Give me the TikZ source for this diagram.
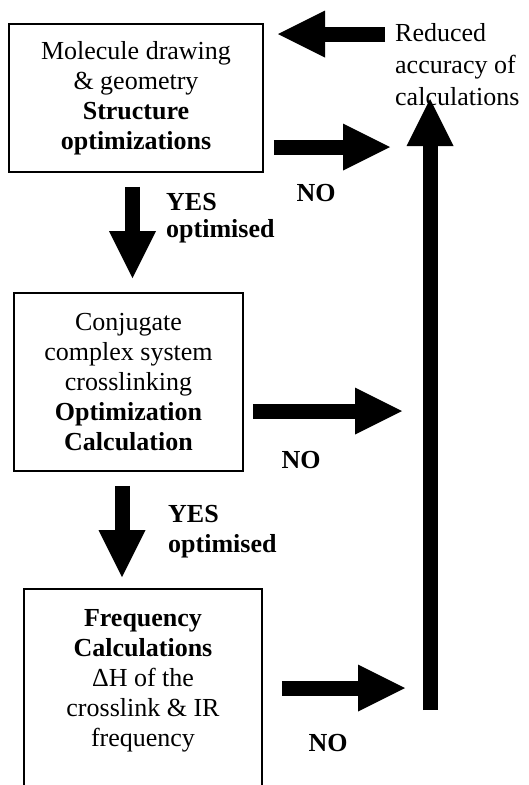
\documentclass[tikz,border=0pt]{standalone}
\usepackage{fontspec}
\setmainfont{Liberation Serif}
\usetikzlibrary{arrows.meta}

\begin{document}
\begin{tikzpicture}[x=1pt, y=-1pt, font=\fontsize{26}{30}\selectfont,
    box/.style={draw, line width=1.6pt, align=center, inner sep=0pt},
    bigarr/.style={line width=15pt, -{Triangle[length=47pt, width=47pt, line width=0pt]}},
    lab/.style={font=\fontsize{26}{#1}\selectfont\bfseries, align=left, inner sep=0pt},
    lab/.default=28]
  \useasboundingbox (0,0) rectangle (528,785);

  % ---------------- steps ----------------
  \node[box, minimum width=254pt, minimum height=148pt] (mol) at (136,98)
    {Molecule drawing\\\& geometry\\\textbf{Structure}\\\textbf{optimizations}};
  \node[box, minimum width=229pt, minimum height=178pt] (conj) at (128.5,382)
    {Conjugate\\complex system\\crosslinking\\\textbf{Optimization}\\\textbf{Calculation}};
  \node[box, draw=none, minimum width=236pt, minimum height=182pt] (freq) at (143,681)
    {\textbf{Frequency}\\\textbf{Calculations}\\ΔH of the\\crosslink \& IR\\frequency};
  \draw[line width=1.6pt] ([yshift=-40pt]freq.south west) -- (freq.north west)
    -- (freq.north east) -- ([yshift=-40pt]freq.south east);

  \node[align=left, inner sep=0pt, anchor=west, font=\fontsize{26}{32}\selectfont] (red) at (395,65)
    {Reduced\\accuracy of\\calculations};

  % ---------------- YES path ----------------
  \node[lab=27, anchor=west] (yes1) at (166,218) {YES\\optimised};
  \node[lab=30, anchor=west] (yes2) at (168,532) {YES\\optimised};
  \draw[bigarr] ([shift={(-3.5,14)}]mol.south) -- ([shift={(4,-14)}]conj.north);
  \draw[bigarr] ([shift={(-6.5,14)}]conj.south) -- ([shift={(-21,-12)}]freq.north);

  % ---------------- NO path ----------------
  \node[lab] (no1) at (316,193) {NO};
  \node[lab] (no2) at (301,460) {NO};
  \node[lab] (no3) at (328,743) {NO};
  \coordinate (hit1) at (390,147);
  \coordinate (hit2) at (402,411);
  \coordinate (hit3) at (405,688);
  \draw[bigarr, shorten <=10pt] (mol.east |- hit1) -- (hit1);
  \draw[bigarr, shorten <=9pt] (conj.east |- hit2) -- (hit2);
  \draw[bigarr, shorten <=20pt] (freq.east |- hit3) -- (hit3);

  % back up to the first step
  \coordinate (foot) at (430,710);
  \coordinate (top) at (430,99);
  \coordinate (back) at (278,34);
  \draw[bigarr] (foot) -- (top);
  \draw[bigarr, shorten <=10pt] (red.west |- back) -- (back);
\end{tikzpicture}
\end{document}
